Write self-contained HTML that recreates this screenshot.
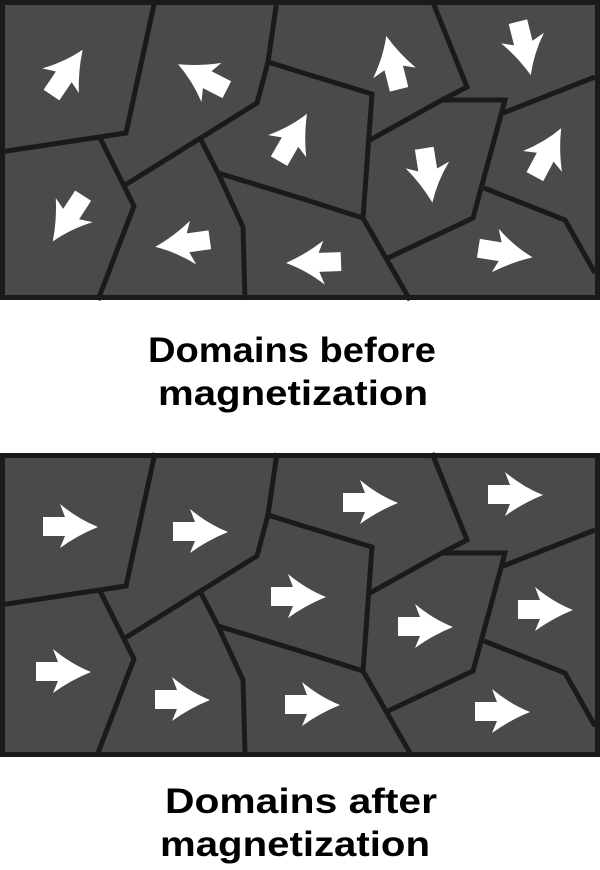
<!DOCTYPE html>
<html><head><meta charset="utf-8"><style>
html,body{margin:0;padding:0;background:#fff;width:600px;height:870px;overflow:hidden}
</style></head><body>
<svg width="600" height="870" viewBox="0 0 600 870" xmlns="http://www.w3.org/2000/svg">
<defs>
<path id="ar" d="M-27,-10 L-5,-10 L-10,-23 Q8,-8 28,0 Q8,8 -10,21 L-5,9 L-27,9 Z" fill="#fff"/>
<g id="net" fill="none" stroke="#1a1a1a" stroke-width="5" stroke-linejoin="miter">
<polyline points="155,0 126,133 0,152"/>
<polyline points="100,138 134,206 98,300"/>
<polyline points="277,0 268,62 257,103 125,185"/>
<polyline points="268,62 300,72 372,94 363,218 410,300"/>
<polyline points="200,138 218,173 243,227 245,300"/>
<polyline points="218,173 300,198 363,218"/>
<polyline points="432,0 467,87 442,100 370,140"/>
<polyline points="442,100 505,100 473,218 388,258"/>
<polyline points="503,113 595,77"/>
<polyline points="484,188 565,220 595,273"/>
</g>
</defs>
<!-- top panel -->
<rect x="2.5" y="2.5" width="595" height="295" fill="#4a4a4a"/>
<use href="#net"/>
<rect x="2.5" y="2.5" width="595" height="295" fill="none" stroke="#1a1a1a" stroke-width="5"/>
<use href="#ar" transform="translate(67,73) rotate(-56)"/>
<use href="#ar" transform="translate(203,77) rotate(207)"/>
<use href="#ar" transform="translate(68,218) rotate(123)"/>
<use href="#ar" transform="translate(183,243) rotate(172)"/>
<use href="#ar" transform="translate(293,138) rotate(-60)"/>
<use href="#ar" transform="translate(314,262) rotate(178)"/>
<use href="#ar" transform="translate(393,63) rotate(-104)"/>
<use href="#ar" transform="translate(524,48) rotate(76)"/>
<use href="#ar" transform="translate(428,175) rotate(81)"/>
<use href="#ar" transform="translate(548,153) rotate(-62)"/>
<use href="#ar" transform="translate(505,253) rotate(9)"/>
<!-- bottom panel -->
<g transform="translate(0,453)">
<rect x="2.5" y="2.5" width="595" height="299" fill="#4a4a4a"/>
<use href="#net"/>
<rect x="2.5" y="2.5" width="595" height="299" fill="none" stroke="#1a1a1a" stroke-width="5"/>
</g>
<use href="#ar" transform="translate(70,527)"/>
<use href="#ar" transform="translate(200,532)"/>
<use href="#ar" transform="translate(370,503)"/>
<use href="#ar" transform="translate(515,495)"/>
<use href="#ar" transform="translate(298,597)"/>
<use href="#ar" transform="translate(425,627)"/>
<use href="#ar" transform="translate(545,610)"/>
<use href="#ar" transform="translate(63,672)"/>
<use href="#ar" transform="translate(182,700)"/>
<use href="#ar" transform="translate(312,705)"/>
<use href="#ar" transform="translate(502,712)"/>
<g font-family="Liberation Sans, sans-serif" font-weight="bold" font-size="35" fill="#000">
<text x="148" y="362" textLength="288" lengthAdjust="spacingAndGlyphs">Domains before</text>
<text x="158" y="405" textLength="270" lengthAdjust="spacingAndGlyphs">magnetization</text>
<text x="165" y="813" textLength="272" lengthAdjust="spacingAndGlyphs">Domains after</text>
<text x="160" y="856" textLength="270" lengthAdjust="spacingAndGlyphs">magnetization</text>
</g>
</svg>
</body></html>
